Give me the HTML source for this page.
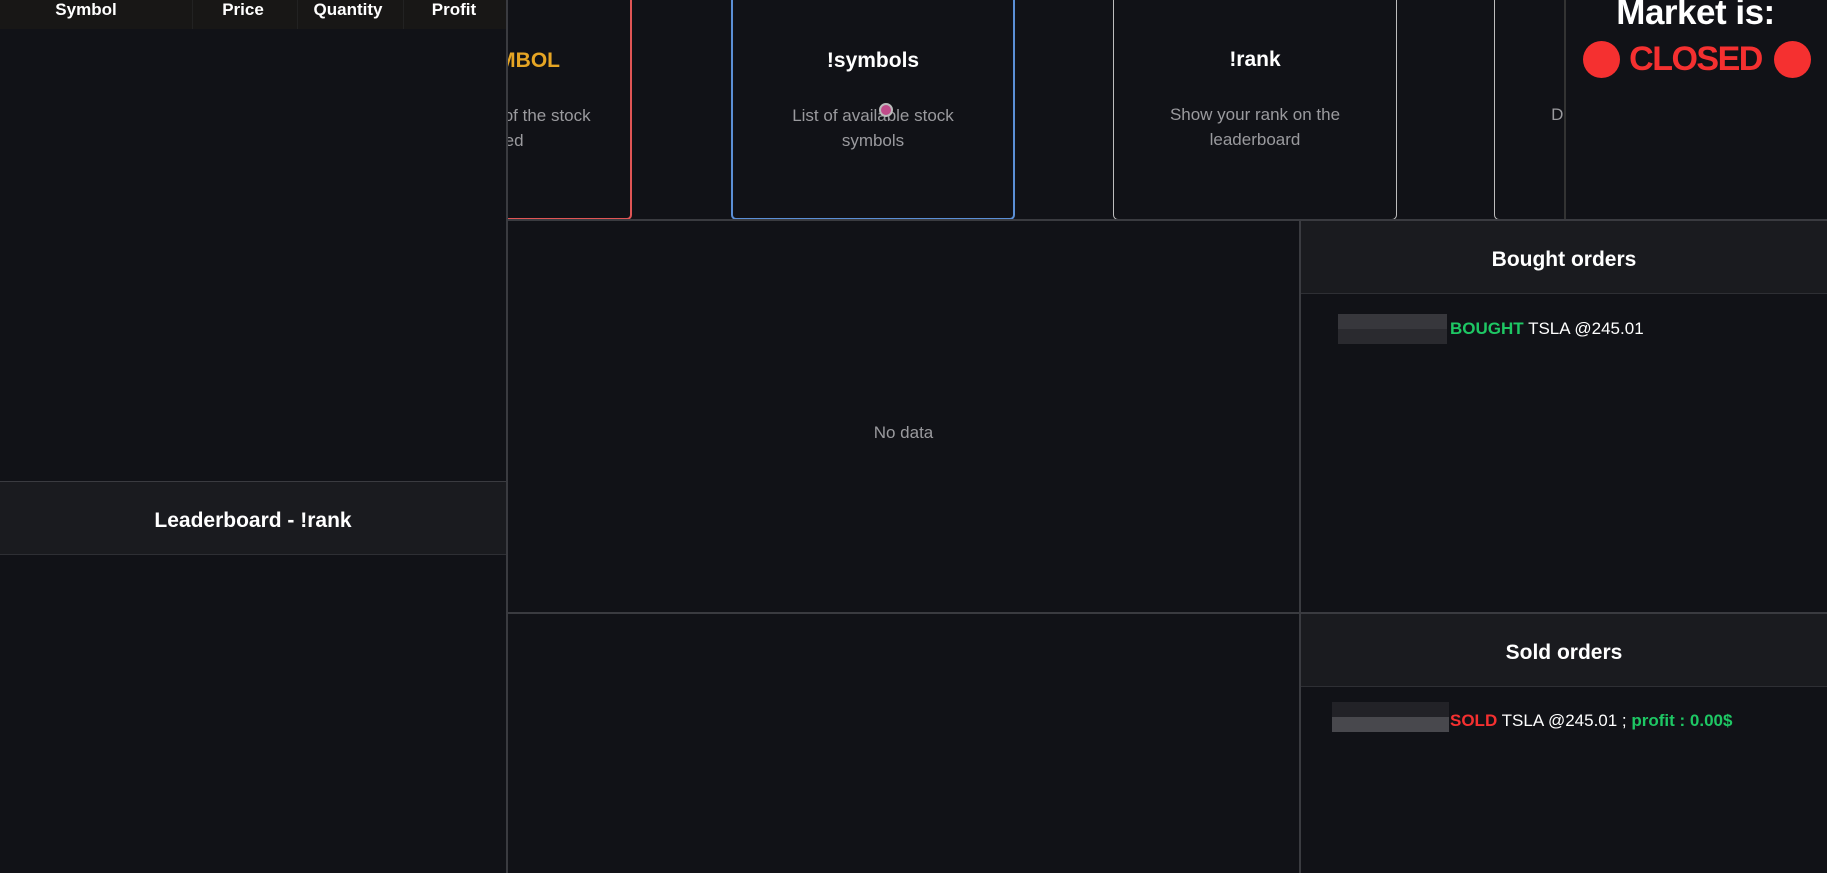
<!DOCTYPE html>
<html><head><meta charset="utf-8"><style>
*{margin:0;padding:0;box-sizing:border-box}
body{width:1827px;height:873px;background:#111217;position:relative;overflow:hidden;font-family:"Liberation Sans",sans-serif;color:#fff}
.a{position:absolute}
.c{position:absolute;text-align:center;white-space:nowrap}
.card{position:absolute;top:-12px;height:232px;width:284px;border-radius:5px;background:#111217}
.t{position:absolute;left:0;right:0;top:59px;text-align:center;font-weight:bold;font-size:21px}
.d{position:absolute;left:0;right:0;top:113px;text-align:center;font-size:17px;line-height:25px;color:#9a9a9e}
.hdr{position:absolute;background:#1a1b1f;border-top:1px solid #3a3b40;border-bottom:1px solid #2e2f34;font-weight:bold;font-size:21px;display:flex;align-items:center;justify-content:center;padding-top:6px}
</style></head><body>
<div class="card" style="left:348px;border:2px solid #e05555"><div class="t" style="color:#e6a524">!buy SYMBOL</div><div class="d">Buy one share of the stock<br>specified</div></div>
<div class="card" style="left:731px;border:2px solid #5b8fd6"><div class="t">!symbols</div><div class="d">List of available stock<br>symbols</div></div>
<div class="a" style="left:879px;top:103px;width:14px;height:14px;border-radius:50%;background:#c04c8a;border:2px solid #bbb"></div>
<div class="card" style="left:1113px;border:1px solid #bdbdbd"><div class="t">!rank</div><div class="d">Show your rank on the<br>leaderboard</div></div>
<div class="card" style="left:1494px;border:1px solid #bdbdbd"><div class="t">!reset</div><div class="d" style="left:-6px;right:6px">Delete your data and<br>register again</div></div>
<div class="a" style="left:1564px;top:0;width:263px;height:220px;background:#111217;border-left:2px solid #333"></div>
<div class="c" style="left:1564px;width:263px;top:-7px;font-size:35px;font-weight:bold;letter-spacing:-0.5px">Market is:</div>
<div class="a" style="left:1583px;top:41px;width:37px;height:37px;border-radius:50%;background:#f53030"></div>
<div class="a" style="left:1774px;top:41px;width:37px;height:37px;border-radius:50%;background:#f53030"></div>
<div class="c" style="left:1564px;width:263px;top:40px;font-size:34px;font-weight:bold;color:#f53030;letter-spacing:-1.5px">CLOSED</div>
<div class="a" style="left:0;top:0;width:508px;height:873px;background:#111217;border-right:2px solid #3a3b40"></div>
<div class="a" style="left:0;top:0;width:506px;height:29px;background:#181716"></div>
<div class="a" style="left:192px;top:0;width:1px;height:29px;background:#222"></div>
<div class="a" style="left:297px;top:0;width:1px;height:29px;background:#222"></div>
<div class="a" style="left:403px;top:0;width:1px;height:29px;background:#222"></div>
<div class="c" style="left:36px;width:100px;top:0;font-size:17px;font-weight:bold">Symbol</div>
<div class="c" style="left:193px;width:100px;top:0;font-size:17px;font-weight:bold">Price</div>
<div class="c" style="left:298px;width:100px;top:0;font-size:17px;font-weight:bold">Quantity</div>
<div class="c" style="left:404px;width:100px;top:0;font-size:17px;font-weight:bold">Profit</div>
<div class="hdr" style="left:0;top:481px;width:506px;height:74px">Leaderboard - !rank</div>
<div class="a" style="left:508px;top:219px;width:1319px;height:2px;background:#3a3b40"></div>
<div class="a" style="left:508px;top:612px;width:1319px;height:2px;background:#3a3b40"></div>
<div class="a" style="left:1299px;top:220px;width:2px;height:653px;background:#3a3b40"></div>
<div class="c" style="left:508px;width:791px;top:423px;font-size:17px;color:#9a9a9e">No data</div>
<div class="hdr" style="left:1301px;top:221px;width:526px;height:73px;border-top:0">Bought orders</div>
<div class="a" style="left:1338px;top:314px;width:109px;height:15px;background:#37373c"></div>
<div class="a" style="left:1338px;top:329px;width:109px;height:15px;background:#2a2a2f"></div>
<div class="a" style="left:1450px;top:319px;font-size:17px;white-space:nowrap"><b style="color:#1ec764">BOUGHT</b> TSLA @245.01</div>
<div class="hdr" style="left:1301px;top:614px;width:526px;height:73px;border-top:0">Sold orders</div>
<div class="a" style="left:1332px;top:702px;width:117px;height:15px;background:#222227"></div>
<div class="a" style="left:1332px;top:717px;width:117px;height:15px;background:#48484d"></div>
<div class="a" style="left:1450px;top:711px;font-size:17px;white-space:nowrap"><b style="color:#f53030">SOLD</b> TSLA @245.01 ; <b style="color:#1ec764">profit : 0.00$</b></div>
</body></html>
